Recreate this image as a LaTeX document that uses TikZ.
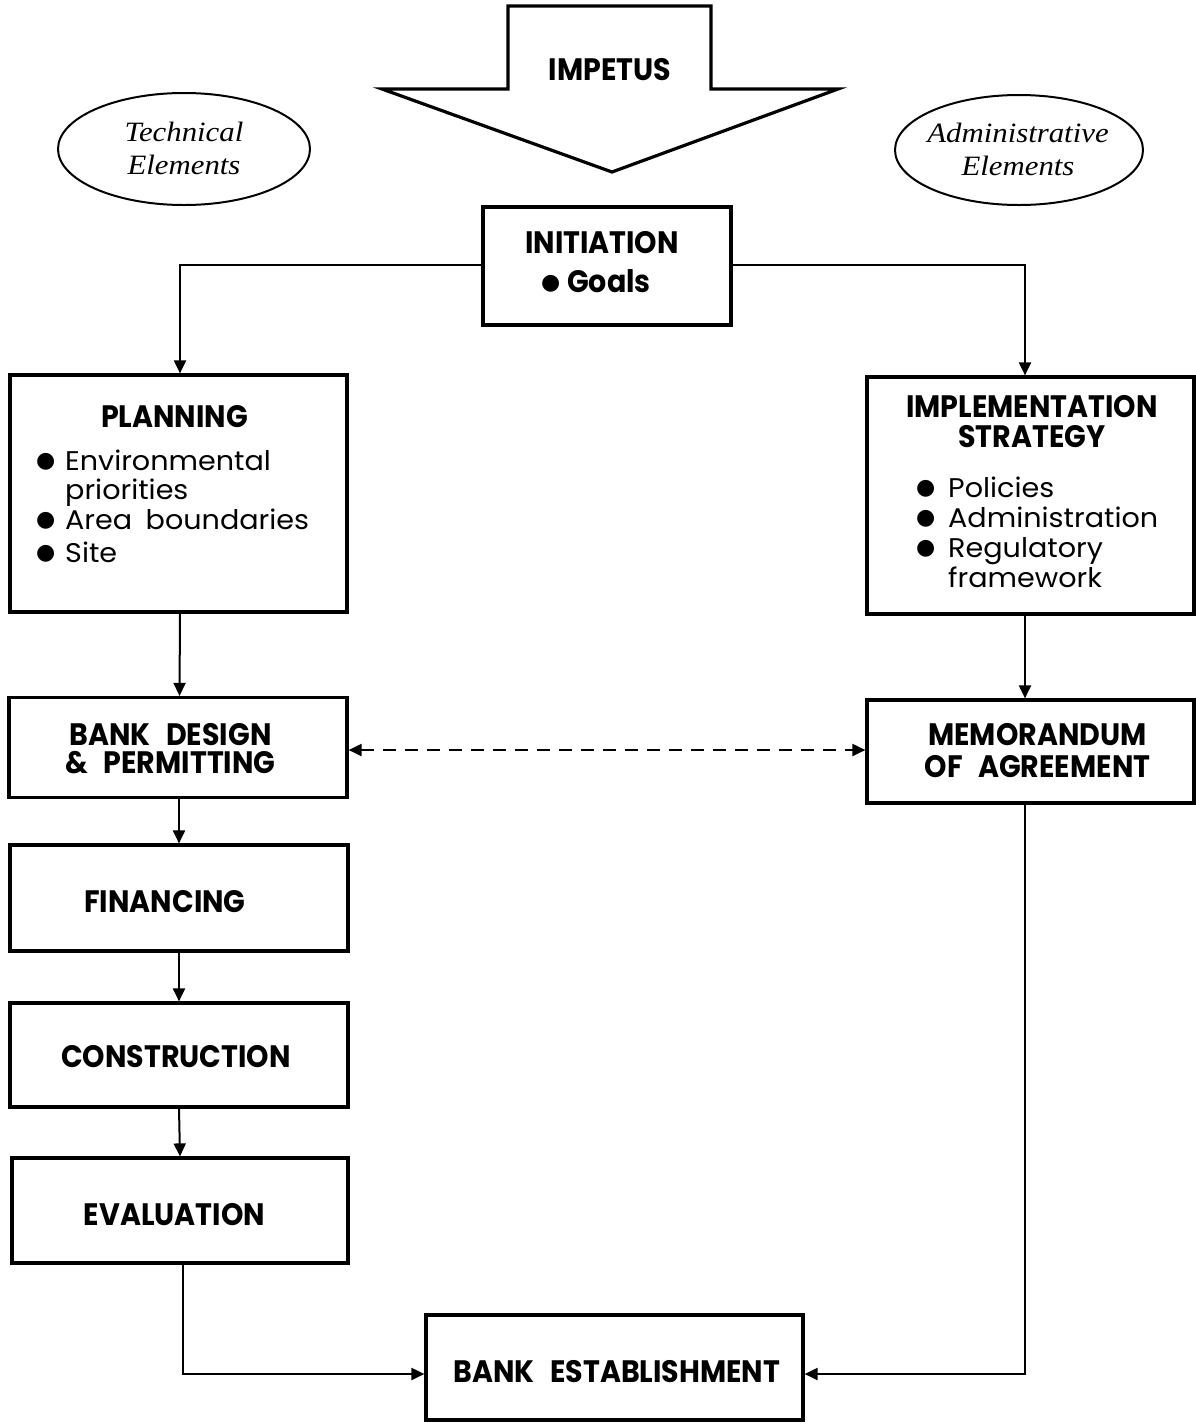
\documentclass[tikz,border=0pt]{standalone}
\usepackage{fontspec}
\newfontfamily\gothic[FakeStretch=1.06]{Poppins}
\newfontfamily\gothicbold[FakeStretch=0.92]{Poppins}
\newfontfamily\dotfont{DejaVu Sans}
\newfontfamily\bookital[FakeStretch=1.1]{Liberation Serif}
\usetikzlibrary{shapes.geometric,arrows.meta}

% type styles
\newcommand\headfont{\gothicbold\bfseries\fontsize{31}{30}\selectfont}
\newcommand\itemfont{\gothic\fontsize{27}{30}\selectfont}
\newcommand\ovalfont{\bookital\itshape\fontsize{28}{33}\selectfont}
\newcommand\dotitem[2]{\makebox[#1][l]{\raisebox{#2}{\dotfont\fontsize{22}{22}\selectfont ●}}}

\begin{document}
\begin{tikzpicture}[x=1pt,y=-1pt,
  stage/.style={draw,line width=3.2pt,inner sep=0pt},
  oval/.style={draw,ellipse,line width=2pt,inner sep=0pt},
  heading/.style={font=\headfont,align=center,inner sep=0pt,anchor=base},
  items/.style={font=\itemfont,align=left,inner sep=0pt,anchor=base west},
  ovaltext/.style={font=\ovalfont,align=center,inner sep=0pt,anchor=base},
  link/.style={line width=2pt,-{Triangle[length=13pt,width=12pt]}},
  twoway/.style={line width=2pt,dashed,dash pattern=on 13pt off 9pt,
    {Triangle[length=13pt,width=12pt]}-{Triangle[length=13pt,width=12pt]}}]

\useasboundingbox (0,0) rectangle (1196,1422);

% the impetus arrow
\draw[line width=3.2pt,line join=miter]
  (508,89) -- (508,6) -- (711,6) -- (711,89) -- (838,89)
  -- (612,172) -- (382,89) -- cycle;
\node[heading] (impetus) at (610,80) {IMPETUS};

% the two element ovals (multi-line texts are placed by their last baseline)
\node[oval,minimum width=252pt,minimum height=112pt] (tech) at (184,149) {};
\node[ovaltext] (techtxt) at (184,174) {Technical\\Elements};
\node[oval,minimum width=248pt,minimum height=110pt] (admin) at (1019,150) {};
\node[ovaltext] (admintxt) at (1018,175) {Administrative\\Elements};

% stages
\node[stage,minimum width=248pt,minimum height=118pt] (init) at (607,266) {};
\node[stage,minimum width=337pt,minimum height=237pt] (plan) at (178.5,493.5) {};
\node[stage,minimum width=327pt,minimum height=237pt] (impl) at (1030.5,495.5) {};
\node[stage,minimum width=338pt,minimum height=100pt] (design) at (178,747.5) {};
\node[stage,minimum width=327pt,minimum height=103pt] (memo) at (1030.5,751.5) {};
\node[stage,minimum width=338pt,minimum height=106pt] (fin) at (179,898) {};
\node[stage,minimum width=338pt,minimum height=104pt] (cons) at (179,1055) {};
\node[stage,minimum width=336pt,minimum height=105pt] (eval) at (180,1210.5) {};
\node[stage,minimum width=377pt,minimum height=105pt] (est) at (614.5,1367.5) {};

% stage texts
\node[heading] (inittxt) at (602,253) {INITIATION};
\node[heading,anchor=base west] (goals) at (541,292) {\dotitem{26pt}{3pt}Goals};
\node[heading] (plantxt) at (174.5,427) {PLANNING};
\node[items] (planlist) at (36,562)
  {\dotitem{29pt}{3pt}Environmental\\[-1pt]
   \hspace*{29pt}priorities\\
   \dotitem{29pt}{3pt}Area\enspace boundaries\\[3pt]
   \dotitem{29pt}{3pt}Site};
\node[heading] (impltxt) at (1032,447) {IMPLEMENTATION\\STRATEGY};
\node[items] (impllist) at (916,587)
  {\dotitem{32pt}{3pt}Policies\\
   \dotitem{32pt}{3pt}Administration\\
   \dotitem{32pt}{3pt}Regulatory\\
   \hspace*{32pt}framework};
\node[heading] (designtxt) at (170.5,773) {BANK\enspace DESIGN\\[-2pt]\&\enspace PERMITTING};
\node[heading] (memotxt) at (1037.5,777) {MEMORANDUM\\[2pt]OF\enspace AGREEMENT};
\node[heading] (fintxt) at (165,912) {FINANCING};
\node[heading] (constxt) at (176,1067) {CONSTRUCTION};
\node[heading] (evaltxt) at (174.5,1225) {EVALUATION};
\node[heading] (esttxt) at (617,1382) {BANK\enspace ESTABLISHMENT};

% connectors
\draw[link] (init.west |- 0,265) -| ([xshift=1.5pt]plan.north);
\draw[link] (init.east |- 0,265) -| ([xshift=-5.5pt]impl.north);
\draw[link] ([xshift=1.5pt]plan.south) -- ([xshift=1.5pt]design.north);
\draw[link] ([xshift=-5.5pt]impl.south) -- ([xshift=-5.5pt]memo.north);
\draw[link] ([xshift=1pt]design.south) -- (fin.north);
\draw[link] (fin.south) -- (cons.north);
\draw[link] (cons.south) -- (eval.north);
\draw[twoway] (design.east |- 0,750) -- (memo.west |- 0,750);
\draw[link] ([xshift=3pt]eval.south) |- (est.west |- 0,1374);
\draw[link] ([xshift=-5.5pt]memo.south) |- (est.east |- 0,1374);
\end{tikzpicture}
\end{document}
